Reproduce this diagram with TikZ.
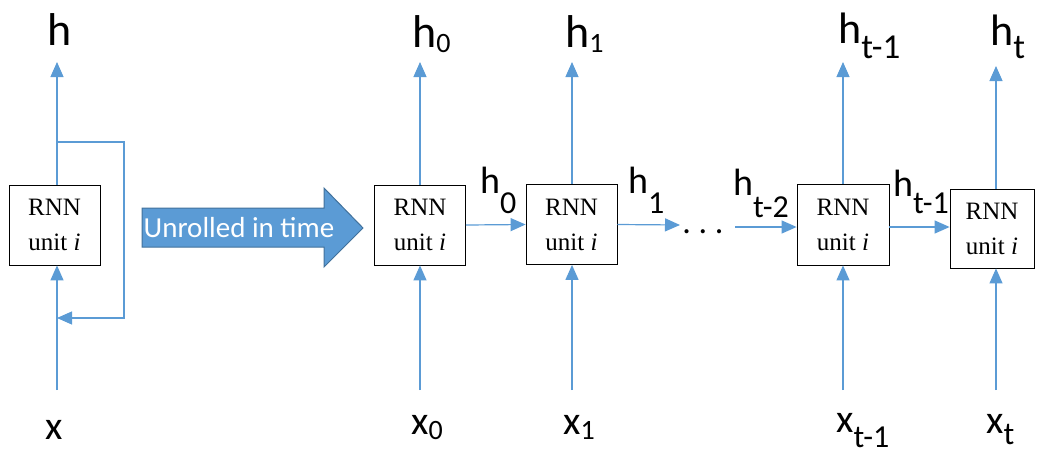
\documentclass[tikz,border=0pt]{standalone}
\usepackage{fontspec}
\setmainfont{Liberation Serif}
\newfontfamily\labelfont{Carlito}
\usetikzlibrary{arrows.meta,calc}
\definecolor{linkblue}{HTML}{5B9BD5}
\definecolor{arrowedge}{HTML}{41719C}
% lowered index: size, drop, text
\newcommand\lowsub[3]{\raisebox{-#2pt}{\fontsize{#1}{#1}\selectfont #3}}

\begin{document}
\begin{tikzpicture}[x=1pt,y=-1pt,
  unitbox/.style={draw=black, line width=0.8pt, fill=white,
    minimum width=91pt, minimum height=80pt, inner sep=0pt, align=center,
    font=\fontsize{25}{35}\selectfont},
  link/.style={draw=linkblue, line width=1.2pt},
  flow/.style={link, -{Triangle[length=15pt,width=13pt]}},
  lbl/.style={anchor=base west, inner sep=0pt, font=\labelfont\fontsize{#1}{#1}\selectfont},
  dots/.style={inner sep=0pt, font=\labelfont\fontsize{34}{34}\selectfont},
]
\useasboundingbox (0,0) rectangle (1037,456);

% ---------- folded cell ----------
\node[unitbox] (b0) at (54.5,225) {RNN\\unit \textit{i}};
\coordinate (t0) at (57,62);
\coordinate (s0) at (57,390);
\coordinate (loopstart) at (57,142);
\coordinate (loopend) at (57,318);
\draw[flow] (b0.north -| t0) -- (t0);
\draw[flow] (s0) -- (b0.south -| s0);
\draw[flow] (loopstart) -- ++(67,0) |- (loopend);
\node[lbl=46] (hlab) at (47,45) {h};
\node[lbl=40] (xlab) at (45,439) {x};

% ---------- unrolling arrow ----------
\draw[fill=linkblue, draw=arrowedge, line width=1pt]
  (142,208) -- (324,208) -- (324,188) -- (363,228) -- (324,267) -- (324,247) -- (142,247) -- cycle;
\node[inner sep=0pt, text=white, font=\labelfont\fontsize{29}{29}\selectfont, anchor=base]
  (unroll) at (239,237) {Unrolled in time};

% ---------- unrolled cells ----------
\node[unitbox] (b1) at (420,225) {RNN\\unit \textit{i}};
\node[unitbox] (b2) at (571.5,224.5) {RNN\\unit \textit{i}};
\node[unitbox, minimum height=81pt, minimum width=92pt] (b3) at (843,224.5) {RNN\\unit \textit{i}};
\node[unitbox, minimum width=84pt, minimum height=79pt] (b4) at (992,228.5) {RNN\\unit \textit{i}};

\coordinate (t1) at (420,62);   \coordinate (s1) at (420,390);
\coordinate (t2) at (572,62);   \coordinate (s2) at (572,390);
\coordinate (t3) at (843,62);   \coordinate (s3) at (843,390);
\coordinate (t4) at (996,66);   \coordinate (s4) at (996,390);

\foreach \i in {1,2,3,4}{
  \draw[flow] (b\i.north -| t\i) -- (t\i);
  \draw[flow] (s\i) -- (b\i.south -| s\i);
}

% hidden state passing
\coordinate (h1end) at (680,225);
\coordinate (hrestart) at (735,227);
\coordinate (h3start) at (889,227);
\draw[flow] (b1.east) -- (b2.west);
\draw[flow] (b2.east) -- (h1end);
\node[dots, anchor=base] (gap) at (703,233) {.\ .\ .};
\draw[flow] (hrestart) -- (hrestart -| b3.west);
\draw[flow] (h3start) -- (h3start -| b4.west);

% outputs
\node[lbl=46] (o0) at (412,47) {h\lowsub{28}{5}{0}};
\node[lbl=46] (o1) at (565,47) {h\lowsub{28}{5}{1}};
\node[lbl=44] (o3) at (838,43) {h\lowsub{35}{15}{t-1}};
\node[lbl=44] (o4) at (990,45) {h\lowsub{35}{13}{t}};

% transferred states
\node[lbl=38] (m0) at (480,193) {h\lowsub{32}{20}{0}};
\node[lbl=38] (m1) at (628,193) {h\lowsub{32}{20}{1}};
\node[lbl=38] (m2) at (733,195) {h\lowsub{32}{22}{t-2}};
\node[lbl=38] (m3) at (893,196) {h\lowsub{32}{17}{t-1}};

% inputs
\node[lbl=40] (i0) at (411,434) {x\lowsub{28}{5}{0}};
\node[lbl=40] (i1) at (563,434) {x\lowsub{28}{5}{1}};
\node[lbl=40] (i3) at (836,432) {x\lowsub{32}{15}{t-1}};
\node[lbl=40] (i4) at (986,433) {x\lowsub{32}{11}{t}};
\end{tikzpicture}
\end{document}
